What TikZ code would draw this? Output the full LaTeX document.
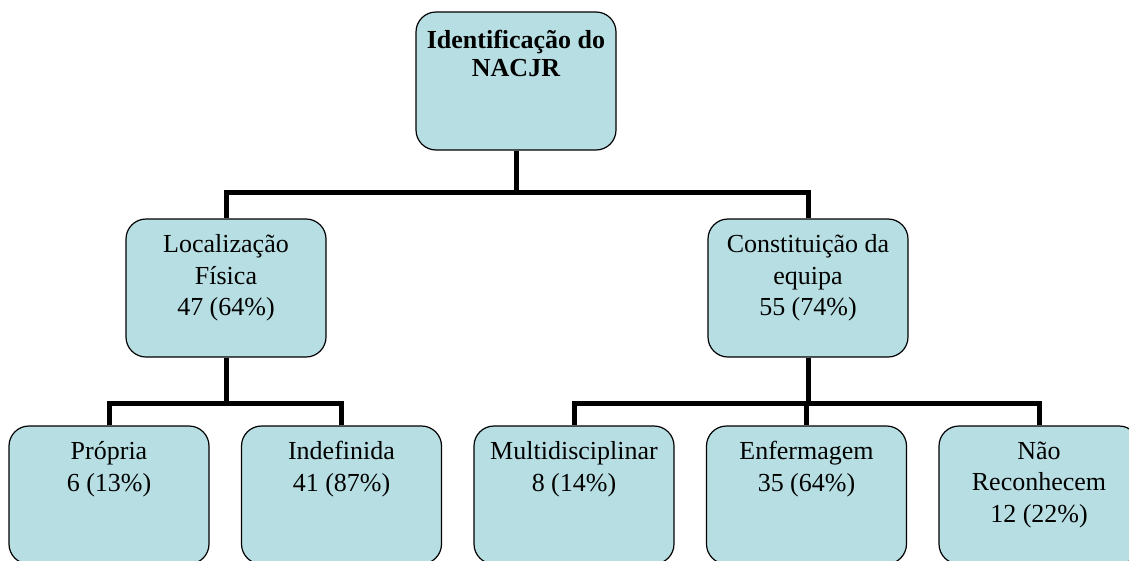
\documentclass[tikz,border=0pt]{standalone}
\usepackage{fontspec}
\setmainfont{Liberation Serif}
\usepackage{xcolor}
\usetikzlibrary{positioning}
\definecolor{boxfill}{RGB}{183,223,227}

\begin{document}
\begin{tikzpicture}[x=1pt, y=1pt, node distance=31.3pt,
    box/.style={rectangle, rounded corners=20pt, draw=black, line width=1.2pt, fill=boxfill, minimum width=200pt, minimum height=138pt, inner sep=0pt},
    boxtext/.style={anchor=north, inner sep=0pt, align=center, yshift=-16pt, font=\fontsize{26}{31.5}\selectfont},
    toptext/.style={boxtext, yshift=-3pt, font=\fontsize{26}{28}\selectfont\bfseries},
    conn/.style={draw, line width=5pt}]

\useasboundingbox (0,0) rectangle (1129,-560);

% Top
\node[box, label={[toptext]north:{Identificação do\\NACJR}}] (nacjr) at (516,-81) {};

% Second level
\node[box, label={[boxtext]north:{Localização\\Física\\47 (64\%)}}] (local) at (226,-288) {};
\node[box, label={[boxtext]north:{Constituição da\\equipa\\55 (74\%)}}] (equipa) at (808,-288) {};

% Third level
\node[box, label={[boxtext]north:{Própria\\6 (13\%)}}] (propria) at (109,-495) {};
\node[box, right=of propria, label={[boxtext]north:{Indefinida\\41 (87\%)}}] (indef) {};
\node[box, right=of indef, label={[boxtext]north:{Multidisciplinar\\8 (14\%)}}] (multi) {};
\node[box, right=of multi, label={[boxtext]north:{Enfermagem\\35 (64\%)}}] (enferm) {};
\node[box, right=of enferm, label={[boxtext]north:{Não\\Reconhecem\\12 (22\%)}}] (naorec) {};

% Junctions
\coordinate[below=42pt of nacjr.south] (j0);
\coordinate[below=46pt of local.south] (j1);
\coordinate[below=46pt of equipa.south] (j2);

% Connectors
\path[conn] (nacjr.south) -- (j0) -| (local.north);
\path[conn] (j0) -| (equipa.north);
\path[conn] (local.south) -- (j1) -| (propria.north);
\path[conn] (j1) -| (indef.north);
\path[conn] (equipa.south) -- (j2) -| (multi.north);
\path[conn] (j2) -| (naorec.north);
\path[conn] (enferm.north |- j2) -- (enferm.north);

\end{tikzpicture}
\end{document}
